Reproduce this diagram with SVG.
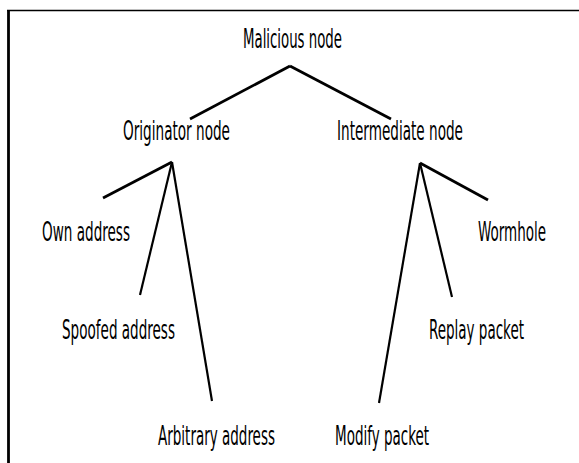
<svg xmlns="http://www.w3.org/2000/svg" width="579" height="463" viewBox="0 0 579 463">
<style>
text{font-family:"DejaVu Sans Condensed","DejaVu Sans","Liberation Sans",sans-serif;font-size:27px;fill:#000}
.e{stroke:#000;stroke-width:2.2;fill:none;stroke-linecap:butt}
.t{stroke-width:2.8}
</style>
<rect width="579" height="463" fill="#fff"/>
<g id="frame">
<line x1="7" y1="10.5" x2="579" y2="10.5" stroke="#000" stroke-width="1.6"/>
<line x1="8.5" y1="10" x2="8.5" y2="463" stroke="#000" stroke-width="2.8"/>
</g>
<g id="connectors">
<line class="e t" x1="290" y1="66" x2="190" y2="119"/>
<line class="e t" x1="290" y1="66" x2="391" y2="119"/>
<line class="e t" x1="172" y1="162" x2="103" y2="198"/>
<line class="e" x1="172" y1="162" x2="140" y2="295"/>
<line class="e" x1="172" y1="162" x2="212" y2="401"/>
<line class="e t" x1="420" y1="163" x2="488" y2="200"/>
<line class="e" x1="420" y1="163" x2="452" y2="297"/>
<line class="e" x1="420" y1="163" x2="379" y2="403"/>
</g>
<g id="malicious"><text x="243" y="48" textLength="99" lengthAdjust="spacingAndGlyphs">Malicious node</text></g>
<g id="originator"><text x="123" y="140" textLength="107" lengthAdjust="spacingAndGlyphs">Originator node</text></g>
<g id="intermediate"><text x="337" y="140" textLength="126" lengthAdjust="spacingAndGlyphs">Intermediate node</text></g>
<g id="own"><text x="42" y="241" textLength="88" lengthAdjust="spacingAndGlyphs">Own address</text></g>
<g id="spoofed"><text x="62" y="339" textLength="113" lengthAdjust="spacingAndGlyphs">Spoofed address</text></g>
<g id="arbitrary"><text x="158" y="445" textLength="117" lengthAdjust="spacingAndGlyphs">Arbitrary address</text></g>
<g id="wormhole"><text x="478" y="241" textLength="68" lengthAdjust="spacingAndGlyphs">Wormhole</text></g>
<g id="replay"><text x="429" y="339" textLength="95" lengthAdjust="spacingAndGlyphs">Replay packet</text></g>
<g id="modify"><text x="335" y="445" textLength="94" lengthAdjust="spacingAndGlyphs">Modify packet</text></g>
</svg>
